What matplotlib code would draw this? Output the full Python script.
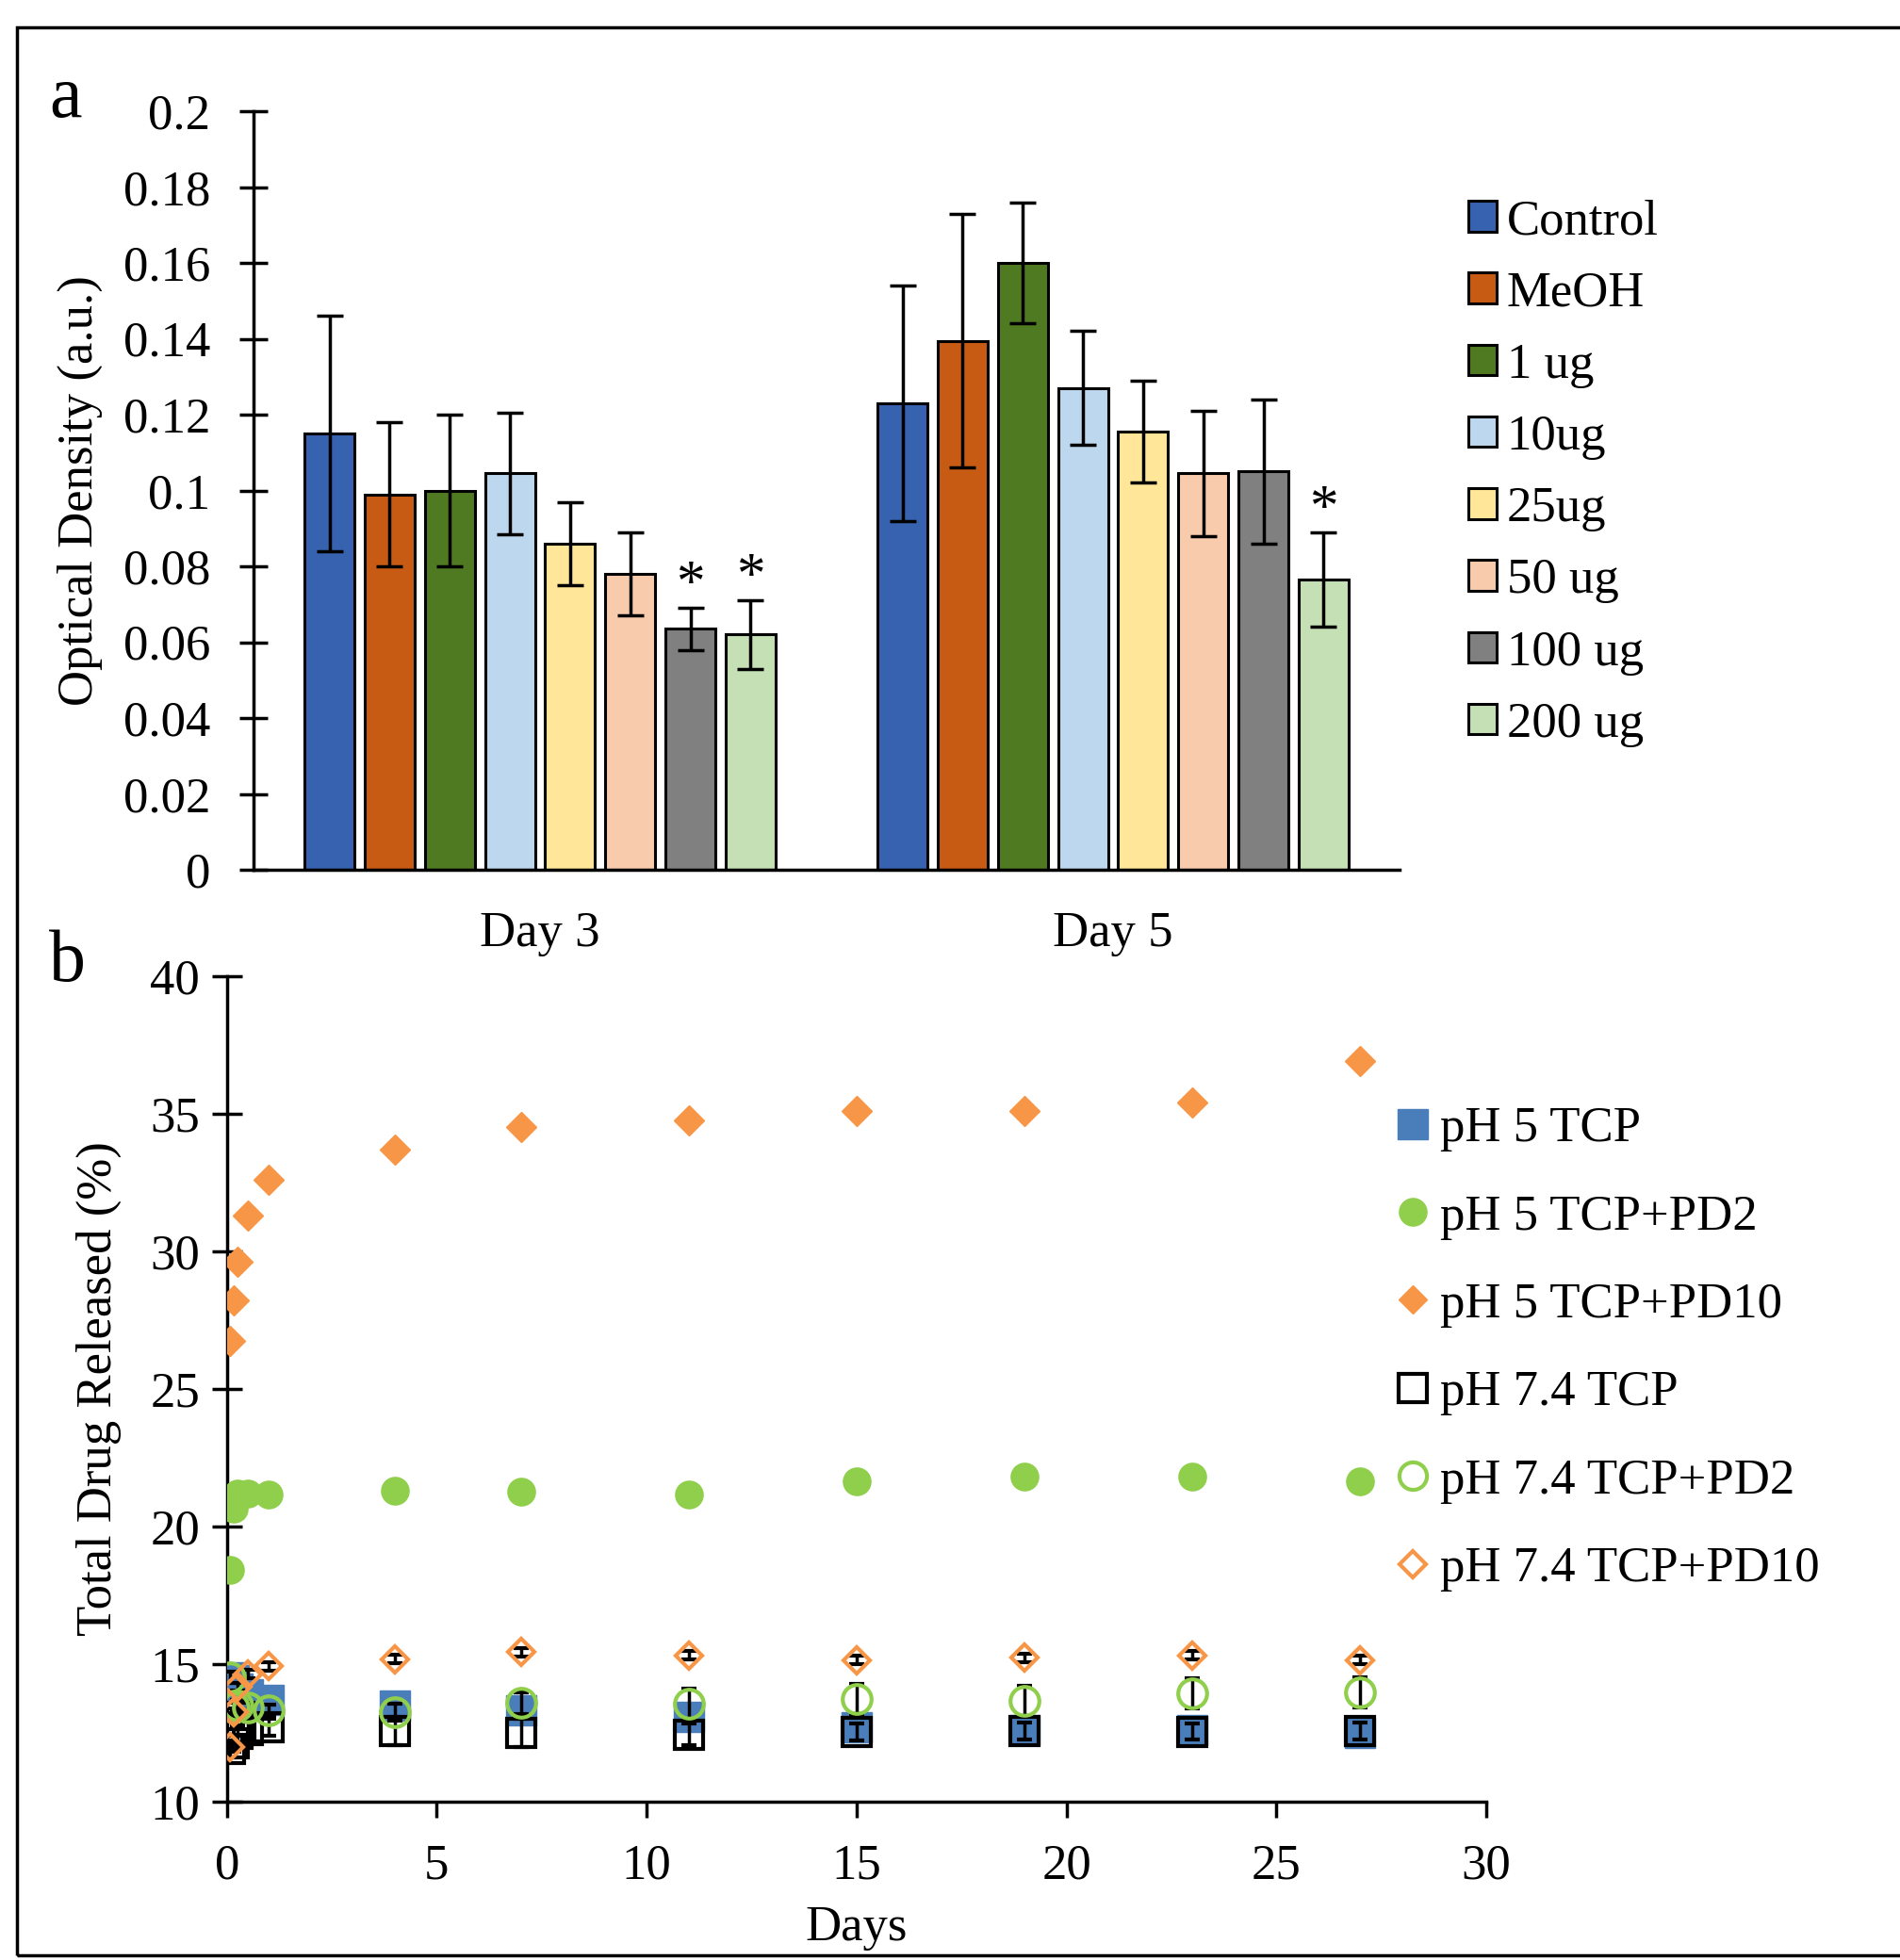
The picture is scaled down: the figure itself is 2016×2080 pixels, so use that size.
import matplotlib.pyplot as plt
import numpy as np
from matplotlib.patches import Rectangle
from matplotlib.lines import Line2D

plt.rcParams['font.family'] = ['Liberation Serif', 'DejaVu Serif']

# ---- panel a data ----
days = ["Day 3", "Day 5"]
groups = ["Control", "MeOH", "1 ug", "10ug", "25ug", "50 ug", "100 ug", "200 ug"]
od_day3 = [0.115, 0.099, 0.100, 0.1045, 0.086, 0.078, 0.0635, 0.062]
od_day5 = [0.123, 0.1395, 0.160, 0.127, 0.1155, 0.1045, 0.105, 0.0765]
err_day3 = [0.031, 0.019, 0.020, 0.016, 0.011, 0.011, 0.0055, 0.009]
err_day5 = [0.031, 0.0335, 0.016, 0.015, 0.0135, 0.0165, 0.019, 0.0125]
sig_day3 = [False, False, False, False, False, False, True, True]
sig_day5 = [False, False, False, False, False, False, False, True]
bar_colors = ["#3762B0", "#C85B14", "#4F7A21", "#BDD7EE", "#FFE699",
              "#F8CBAD", "#808080", "#C5E0B4"]

# ---- panel b data ----
t = [0.08, 0.17, 0.25, 0.5, 1, 4, 7, 11, 15, 19, 23, 27]
ph5_tcp = [14.5, 14.4, 14.1, 13.9, 13.7, 13.48, 13.3, 13.08, 12.69, 12.6, 12.58, 12.49]
ph5_pd2 = [18.4, 20.65, 21.2, 21.2, 21.15, 21.3, 21.25, 21.15, 21.65, 21.8, 21.8, 21.65]
ph5_pd10 = [26.75, 28.2, 29.6, 31.3, 32.6, 33.7, 34.5, 34.75, 35.1, 35.1, 35.4, 36.9]
ph74_tcp = [11.9, 12.1, 12.45, 12.6, 12.7, 12.56, 12.49, 12.43, 12.53, 12.55, 12.54, 12.55]
ph74_pd2 = [14.5, 13.4, 13.5, 13.4, 13.31, 13.25, 13.57, 13.54, 13.71, 13.65, 13.94, 13.96]
ph74_pd10 = [11.98, 13.23, 14.17, 14.62, 14.91, 15.17, 15.42, 15.31, 15.14, 15.22, 15.31, 15.14]
err_ph5_pd10 = [0.1] * 12
err_ph74_tcp = [0.3, 0.3, 0.3, 0.3, 0.3, 0.5, 0.5, 0.4, 0.3, 0.3, 0.3, 0.3]
err_ph74_pd2 = [0.2, 0.2, 0.2, 0.2, 0.2, 0.3, 0.4, 0.55, 0.55, 0.55, 0.55, 0.55]
err_ph74_pd10 = [0.15] * 12

FS = 38
W, H = 2016, 2080
fig = plt.figure(figsize=(W / 100, H / 100), dpi=100)

# outer frame (right edge is cut off in the original)
fig.patches.append(Rectangle((18 / W, 5 / H), 1.2, (2080 - 29 - 5) / H,
                             transform=fig.transFigure, fill=False,
                             edgecolor="black", linewidth=2.5))

# ================= panel a =================
axa = fig.add_axes([269 / W, 1 - 923 / H, (1485 - 269) / W, (923 - 118) / H])
x = np.arange(len(days))
step, bw = 0.105, 0.087
for i, g in enumerate(groups):
    vals = [od_day3[i], od_day5[i]]
    errs = [err_day3[i], err_day5[i]]
    xs = x + (i - 3.5) * step
    axa.bar(xs, vals, bw, color=bar_colors[i], edgecolor="black", linewidth=2.2,
            label=g, zorder=2)
    axa.errorbar(xs, vals, yerr=errs, fmt="none", ecolor="black", elinewidth=2.5,
                 capsize=10, capthick=2.5, zorder=3)
    for j, sig in enumerate([sig_day3[i], sig_day5[i]]):
        if sig:
            axa.text(xs[j], vals[j] + errs[j] - 0.001, "*", ha="center", va="bottom",
                     fontsize=44)

axa.set_xlim(-0.5, 1.5)
axa.set_ylim(0, 0.2)
axa.set_yticks(np.arange(0, 0.201, 0.02))
axa.set_yticklabels(["0", "0.02", "0.04", "0.06", "0.08", "0.1", "0.12", "0.14",
                     "0.16", "0.18", "0.2"])
axa.set_xticks(x)
axa.set_xticklabels(days)
axa.spines[["top", "right"]].set_visible(False)
for s in ["left", "bottom"]:
    axa.spines[s].set_linewidth(2.5)
axa.tick_params(axis="y", direction="inout", length=22, width=2.5, labelsize=FS, pad=22)
axa.tick_params(axis="x", length=0, labelsize=FS, pad=32)
axa.set_ylabel("Optical Density (a.u.)", fontsize=FS, labelpad=16)
axa.legend(loc="upper left", bbox_to_anchor=(1537 / W, 1 - 190 / H),
           bbox_transform=fig.transFigure, frameon=False, fontsize=FS,
           handlelength=0.57, handleheight=0.57, handletextpad=0.2, labelspacing=0.535,
           borderaxespad=0)

fig.text(52 / W, 1 - 105 / H, "a", fontsize=56, ha="left", va="center")

# ================= panel b =================
axb = fig.add_axes([240.7 / W, 1 - 1911.7 / H, (1577 - 240.7) / W, (1911.7 - 1035.7) / H])
blue, green, orange = "#4A7EBB", "#8FCF4B", "#F79646"
axb.plot(t, ph5_tcp, "s", ms=23, color=blue, mec=blue, zorder=3)
axb.plot(t, ph5_pd2, "o", ms=21, color=green, mec=green, zorder=3)
axb.errorbar(t, ph5_pd10, yerr=err_ph5_pd10, fmt="D", ms=16, color=orange, mec=orange,
             ecolor="black", elinewidth=2, capsize=4, zorder=3)
axb.errorbar(t, ph74_tcp, yerr=err_ph74_tcp, fmt="s", ms=22, mfc="none", mec="black",
             mew=3, ecolor="black", elinewidth=2.5, capsize=6, zorder=4)
axb.errorbar(t, ph74_pd2, yerr=err_ph74_pd2, fmt="o", ms=22, mfc="none", mec=green,
             mew=3, ecolor="black", elinewidth=2.5, capsize=6, zorder=4)
axb.errorbar(t, ph74_pd10, yerr=err_ph74_pd10, fmt="D", ms=14, mfc="none", mec=orange,
             mew=3, ecolor="black", elinewidth=2.5, capsize=6, zorder=4)

axb.set_xlim(0, 30)
axb.set_ylim(10, 40)
axb.set_xticks(range(0, 31, 5))
axb.set_yticks(range(10, 41, 5))
axb.spines[["top", "right"]].set_visible(False)
for s in ["left", "bottom"]:
    axb.spines[s].set_linewidth(2.5)
axb.tick_params(axis="y", direction="inout", length=23, width=2.5, labelsize=FS, pad=9)
axb.tick_params(axis="x", direction="out", length=12, width=2.5, labelsize=FS, pad=20)
axb.set_xlabel("Days", fontsize=FS, labelpad=13)
axb.set_ylabel("Total Drug Released (%)", fontsize=FS, labelpad=22)

legend_labels = ["pH 5 TCP", "pH 5 TCP+PD2", "pH 5 TCP+PD10",
                 "pH 7.4 TCP", "pH 7.4 TCP+PD2", "pH 7.4 TCP+PD10"]
handles = [
    Line2D([], [], ls="none", marker="s", ms=23, color=blue),
    Line2D([], [], ls="none", marker="o", ms=21, color=green),
    Line2D([], [], ls="none", marker="D", ms=15, color=orange),
    Line2D([], [], ls="none", marker="s", ms=21, mfc="none", mec="black", mew=3),
    Line2D([], [], ls="none", marker="o", ms=21, mfc="none", mec=green, mew=3),
    Line2D([], [], ls="none", marker="D", ms=14, mfc="none", mec=orange, mew=3),
]
axb.legend(handles, legend_labels, loc="upper left", bbox_to_anchor=(1462 / W, 1 - 1153 / H),
           bbox_transform=fig.transFigure, frameon=False, fontsize=FS,
           handlelength=0.6, handletextpad=0.25, labelspacing=0.86, borderaxespad=0)

fig.text(52 / W, 1 - 1022 / H, "b", fontsize=56, ha="left", va="center")

fig.savefig("out.png", dpi=100, facecolor="white")
